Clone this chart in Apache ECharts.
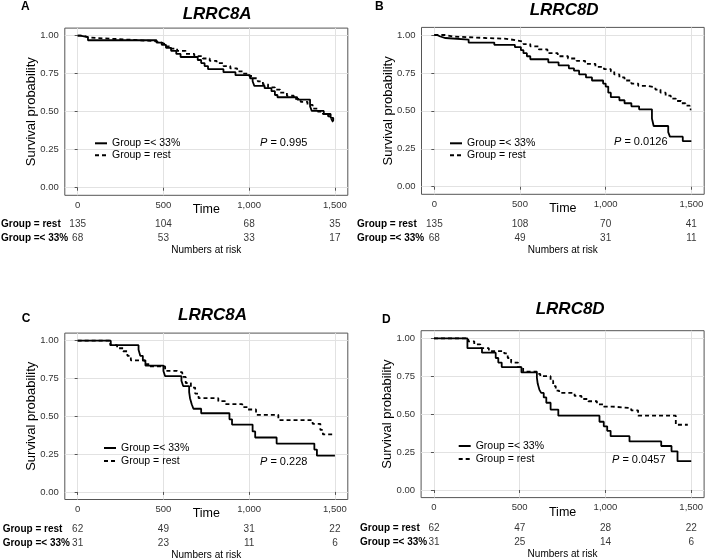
<!DOCTYPE html>
<html>
<head>
<meta charset="utf-8">
<script src="https://cdn.jsdelivr.net/npm/echarts@6/dist/echarts.min.js"></script>
<style>
  html, body { margin: 0; padding: 0; background: #fff; }
  #chart { width: 707px; height: 560px; }
</style>
</head>
<body>
<div id="chart"></div>
<script>
const xTicks = [0, 500, 1000, 1500];
const yTicks = [0, 0.25, 0.5, 0.75, 1];
const groups = ['Group =< 33%', 'Group = rest'];
const riskTimes = [0, 500, 1000, 1500];
const genes = ['LRRC8A', 'LRRC8D', 'LRRC8A', 'LRRC8D'];
const letters = ['A', 'B', 'C', 'D'];
const pValues = ['0.995', '0.0126', '0.228', '0.0457'];

// KM curves: [time, survival] at each drop; the last point is the end of follow-up
const aLow = [[0, 1], [15, 0.99], [60, 0.97], [460, 0.955], [490, 0.94], [515, 0.92], [545, 0.90], [575, 0.88], [600, 0.86], [700, 0.84], [720, 0.82], [740, 0.80], [760, 0.78], [850, 0.76], [920, 0.74], [1005, 0.72], [1020, 0.70], [1030, 0.67], [1090, 0.655], [1130, 0.635], [1150, 0.61], [1165, 0.595], [1280, 0.58], [1355, 0.535], [1365, 0.505], [1435, 0.485], [1475, 0.46], [1490, 0.445], [1495, 0.445]];
const aRest = [[0, 1], [30, 0.99], [60, 0.985], [110, 0.975], [280, 0.965], [440, 0.955], [490, 0.945], [510, 0.93], [540, 0.915], [580, 0.90], [630, 0.88], [680, 0.865], [730, 0.85], [770, 0.835], [810, 0.82], [850, 0.80], [890, 0.785], [930, 0.765], [965, 0.75], [1000, 0.735], [1020, 0.72], [1050, 0.70], [1080, 0.68], [1110, 0.66], [1150, 0.645], [1180, 0.625], [1220, 0.605], [1260, 0.585], [1300, 0.565], [1340, 0.545], [1370, 0.52], [1400, 0.50], [1430, 0.485], [1460, 0.47], [1480, 0.45], [1490, 0.43], [1495, 0.43]];

const bLow = [[0, 1], [15, 0.99], [35, 0.98], [65, 0.97], [200, 0.95], [350, 0.935], [470, 0.92], [505, 0.90], [520, 0.88], [540, 0.86], [560, 0.84], [665, 0.82], [725, 0.80], [785, 0.78], [815, 0.765], [845, 0.74], [885, 0.72], [920, 0.70], [985, 0.68], [1000, 0.66], [1015, 0.62], [1030, 0.59], [1080, 0.57], [1110, 0.55], [1150, 0.53], [1195, 0.51], [1270, 0.45], [1280, 0.40], [1365, 0.36], [1375, 0.33], [1450, 0.30], [1500, 0.30]];
const bRest = [[0, 1], [60, 0.99], [110, 0.98], [300, 0.975], [420, 0.965], [480, 0.955], [520, 0.94], [560, 0.925], [610, 0.905], [660, 0.88], [720, 0.86], [780, 0.845], [830, 0.83], [880, 0.81], [940, 0.79], [990, 0.775], [1030, 0.76], [1050, 0.74], [1080, 0.72], [1110, 0.70], [1150, 0.68], [1190, 0.665], [1240, 0.655], [1290, 0.64], [1320, 0.62], [1350, 0.60], [1380, 0.58], [1410, 0.565], [1440, 0.55], [1465, 0.535], [1490, 0.51], [1500, 0.51]];

const cLow = [[0, 1], [193, 0.97], [355, 0.94], [365, 0.90], [380, 0.87], [395, 0.835], [500, 0.80], [510, 0.765], [605, 0.735], [615, 0.70], [650, 0.66], [655, 0.62], [665, 0.58], [675, 0.55], [720, 0.52], [885, 0.48], [900, 0.445], [1020, 0.40], [1035, 0.36], [1160, 0.32], [1380, 0.28], [1395, 0.24], [1500, 0.24]];
const cRest = [[0, 1], [190, 0.97], [230, 0.95], [265, 0.93], [290, 0.90], [310, 0.87], [390, 0.845], [420, 0.83], [510, 0.80], [580, 0.79], [610, 0.76], [630, 0.72], [660, 0.69], [685, 0.65], [705, 0.62], [820, 0.60], [860, 0.58], [960, 0.56], [990, 0.545], [1040, 0.51], [1170, 0.475], [1370, 0.45], [1415, 0.41], [1430, 0.38], [1500, 0.38]];

const dLow = [[0, 1], [195, 0.935], [280, 0.905], [360, 0.87], [375, 0.84], [395, 0.81], [510, 0.775], [600, 0.74], [605, 0.70], [615, 0.66], [625, 0.64], [640, 0.61], [655, 0.575], [680, 0.53], [725, 0.49], [965, 0.45], [990, 0.42], [1010, 0.39], [1030, 0.355], [1140, 0.32], [1325, 0.29], [1385, 0.255], [1420, 0.19], [1500, 0.19]];
const dRest = [[0, 1], [200, 0.98], [235, 0.96], [270, 0.935], [320, 0.915], [410, 0.90], [430, 0.87], [450, 0.84], [490, 0.81], [520, 0.78], [600, 0.765], [620, 0.75], [680, 0.72], [695, 0.685], [710, 0.655], [730, 0.64], [820, 0.62], [860, 0.60], [900, 0.585], [950, 0.565], [990, 0.55], [1040, 0.54], [1150, 0.525], [1190, 0.49], [1410, 0.43], [1480, 0.43]];

// numbers at risk at riskTimes
const aRiskRest = [135, 104, 68, 35];
const aRiskLow = [68, 53, 33, 17];
const bRiskRest = [135, 108, 70, 41];
const bRiskLow = [68, 49, 31, 11];
const cRiskRest = [62, 49, 31, 22];
const cRiskLow = [31, 23, 11, 6];
const dRiskRest = [62, 47, 28, 22];
const dRiskLow = [31, 25, 14, 6];

const font = "'Liberation Sans', Arial, Helvetica, sans-serif";

const panels = [
  { low: aLow, rest: aRest, riskLow: aRiskLow, riskRest: aRiskRest,
    grid: { left: 64.8, top: 28.1, width: 283, height: 167.2 }, riskTop: 217, labelLeft: 1,
    legend: { left: 94, top: 137.3, gap: 0 }, p: { left: 260, top: 137 },
    title: { left: 182.7, top: 6 }, letter: { left: 21, top: 1 } },
  { low: bLow, rest: bRest, riskLow: bRiskLow, riskRest: bRiskRest,
    grid: { left: 421.5, top: 27.4, width: 282.7, height: 166.9 }, riskTop: 217, labelLeft: 357,
    legend: { left: 449, top: 137.3, gap: 0 }, p: { left: 614, top: 136.5 },
    title: { left: 529.7, top: 2 }, letter: { left: 375, top: 1 } },
  { low: cLow, rest: cRest, riskLow: cRiskLow, riskRest: cRiskRest,
    grid: { left: 64.8, top: 333.1, width: 283, height: 166.4 }, riskTop: 522, labelLeft: 2.7,
    legend: { left: 103, top: 442, gap: 1 }, p: { left: 260, top: 456.5 },
    title: { left: 178, top: 307 }, letter: { left: 21.7, top: 313 } },
  { low: dLow, rest: dRest, riskLow: dRiskLow, riskRest: dRiskRest,
    grid: { left: 421.1, top: 330.7, width: 283, height: 166.9 }, riskTop: 521, labelLeft: 360,
    legend: { left: 457.7, top: 440, gap: 1 }, p: { left: 612, top: 454 },
    title: { left: 535.7, top: 301 }, letter: { left: 382, top: 314 } },
];

function km(name, data, g, dash) {
  return {
    name, type: 'line', xAxisIndex: g, yAxisIndex: g, data,
    step: 'end', symbol: 'none', showSymbol: false, silent: true,
    lineStyle: { color: '#000', width: 1.8, type: dash },
    itemStyle: { color: '#000' },
  };
}

const grids = [], xAxes = [], yAxes = [], series = [], legends = [], titles = [];

panels.forEach((p, i) => {
  const g = grids.length;
  grids.push({ ...p.grid, show: true, borderColor: '#555', borderWidth: 1, outerBoundsMode: 'none' });
  grids.push({ left: p.grid.left, width: p.grid.width, top: p.riskTop, height: 28, outerBoundsMode: 'none' });

  xAxes.push({
    gridIndex: g, type: 'value', min: -75, max: 1575,
    name: 'Time', nameLocation: 'middle', nameGap: 8, nameMoveOverlap: false,
    nameTextStyle: { fontSize: 12.5, color: '#000', fontFamily: font },
    axisLine: { show: false },
    axisTick: { show: true, length: 3, customValues: xTicks, lineStyle: { color: '#555' } },
    axisLabel: { customValues: xTicks, margin: 5, fontSize: 9.5, color: '#333', fontFamily: font,
      formatter: (v) => v.toLocaleString('en-US') },
    splitLine: { show: true, lineStyle: { color: '#e2e2e2', width: 1 } },
  });
  yAxes.push({
    gridIndex: g, type: 'value', min: -0.05, max: 1.05,
    name: 'Survival probability', nameLocation: 'middle', nameGap: 27, nameMoveOverlap: false,
    nameTextStyle: { fontSize: 13, color: '#000', fontFamily: font },
    axisLine: { show: false },
    axisTick: { show: true, length: 3, customValues: yTicks, lineStyle: { color: '#555' } },
    axisLabel: { customValues: yTicks, margin: 6, fontSize: 9.5, color: '#333', fontFamily: font,
      formatter: (v) => v.toFixed(2) },
    splitLine: { show: true, lineStyle: { color: '#e2e2e2', width: 1 } },
  });

  xAxes.push({
    gridIndex: g + 1, type: 'value', min: -75, max: 1575,
    name: 'Numbers at risk', nameLocation: 'middle', nameGap: 0, nameMoveOverlap: false,
    nameTextStyle: { fontSize: 10, color: '#000', fontFamily: font },
    axisLine: { show: false }, axisTick: { show: false }, axisLabel: { show: false }, splitLine: { show: false },
  });
  yAxes.push({
    gridIndex: g + 1, type: 'category', data: groups,
    axisLine: { show: false }, axisTick: { show: false }, splitLine: { show: false },
    axisLabel: { align: 'left', margin: p.grid.left - p.labelLeft, fontSize: 10, fontWeight: 'bold',
      color: '#000', fontFamily: font },
  });

  series.push(km(groups[0], p.low, g, 'solid'));
  series.push(km(groups[1], p.rest, g, [4, 3]));
  series.push({
    type: 'scatter', xAxisIndex: g + 1, yAxisIndex: g + 1, symbolSize: 0, silent: true,
    data: riskTimes.flatMap((t, k) => [[t, groups[1], p.riskRest[k]], [t, groups[0], p.riskLow[k]]]),
    label: { show: true, position: 'inside', formatter: (d) => String(d.value[2]),
      fontSize: 10, color: '#000', fontFamily: font },
  });

  legends.push({
    data: groups, orient: 'vertical', left: p.legend.left, top: p.legend.top, padding: 0,
    itemGap: p.legend.gap, itemWidth: 12, itemHeight: 4, selectedMode: false,
    itemStyle: { opacity: 0 },
    textStyle: { fontSize: 10.5, color: '#000', lineHeight: 12, fontFamily: font },
  });

  titles.push({
    text: genes[i], left: p.title.left, top: p.title.top, padding: 0,
    textStyle: { fontSize: 17, fontWeight: 'bold', fontStyle: 'italic', color: '#000', fontFamily: font },
  });
  titles.push({
    text: letters[i], left: p.letter.left, top: p.letter.top, padding: 0,
    textStyle: { fontSize: 12, fontWeight: 'bold', color: '#000', fontFamily: font },
  });
  titles.push({
    text: '{i|P} = ' + pValues[i], left: p.p.left, top: p.p.top, padding: 0,
    textStyle: { fontSize: 11, fontWeight: 'normal', color: '#000', fontFamily: font,
      rich: { i: { fontStyle: 'italic', fontSize: 11, color: '#000', fontFamily: font } } },
  });
});

const chart = echarts.init(document.getElementById('chart'), null, { renderer: 'canvas' });
chart.setOption({
  animation: false,
  backgroundColor: '#fff',
  textStyle: { fontFamily: font },
  title: titles,
  legend: legends,
  grid: grids,
  xAxis: xAxes,
  yAxis: yAxes,
  series,
});

window.addEventListener('resize', () => chart.resize());
</script>
</body>
</html>
